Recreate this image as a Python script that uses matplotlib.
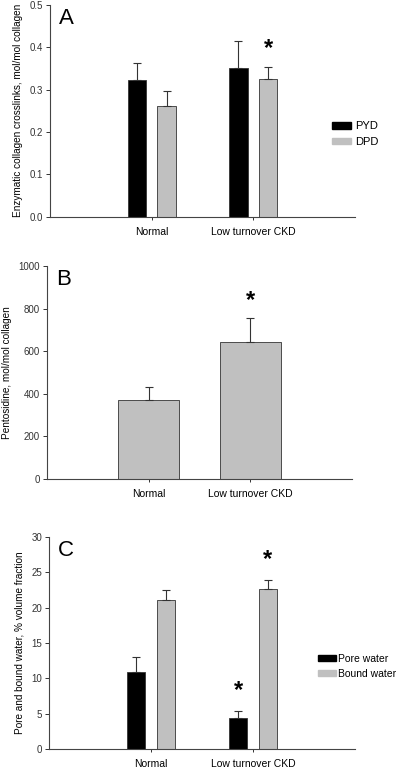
import numpy as np
import matplotlib.pyplot as plt
from matplotlib.patches import Patch

plt.rcParams['font.family'] = ['Liberation Sans', 'DejaVu Sans']

# Data
groups = ['Normal', 'Low turnover CKD']

pyd = [0.323, 0.352]
pyd_err = [0.039, 0.062]
dpd = [0.261, 0.325]
dpd_err = [0.035, 0.029]

pento = [372, 642]
pento_err = [58, 115]

pore = [10.9, 4.4]
pore_err = [2.1, 1.0]
bound = [21.1, 22.6]
bound_err = [1.4, 1.3]

black = '#000000'
gray = '#c0c0c0'
edge = '#333333'

fig = plt.figure(figsize=(4.0, 7.69), dpi=100)
x = np.arange(len(groups))


def style(ax, ymax, yticks, fmt):
    ax.set_xlim(-1.0, 2.0)
    ax.set_ylim(0, ymax)
    ax.set_yticks(yticks)
    ax.set_yticklabels([fmt.format(t) for t in yticks])
    ax.set_xticks(x)
    ax.set_xticklabels(groups, fontsize=7.5)
    for s in ['top', 'right']:
        ax.spines[s].set_visible(False)
    for s in ['left', 'bottom']:
        ax.spines[s].set_color('#444444')
        ax.spines[s].set_linewidth(0.8)
    ax.tick_params(axis='y', labelsize=7, colors='#333333', length=3, width=0.7, pad=2)
    ax.tick_params(axis='x', length=2.5, width=0.7, pad=5, colors='#333333', labelcolor='black')


def bars(ax, vals, errs, offset, width, color):
    ax.bar(x + offset, vals, width, color=color, edgecolor=edge, linewidth=0.6, zorder=2)
    ax.errorbar(x + offset, vals, yerr=[np.zeros(len(vals)), errs], fmt='none',
                ecolor=edge, elinewidth=0.8, capsize=3, capthick=0.8, zorder=3)


def star(ax, xpos, ypos):
    ax.text(xpos, ypos, '*', fontsize=17, fontweight='bold', ha='center', va='center')


# Panel A
axA = fig.add_axes([0.125, 0.718, 0.7625, 0.2757])
bars(axA, pyd, pyd_err, -0.147, 0.18, black)
bars(axA, dpd, dpd_err, 0.147, 0.18, gray)
style(axA, 0.5, [0.0, 0.1, 0.2, 0.3, 0.4, 0.5], '{:.1f}')
axA.set_ylabel('Enzymatic collagen crosslinks, mol/mol collagen', fontsize=7.2, labelpad=5)
axA.text(0.03, 0.985, 'A', transform=axA.transAxes, fontsize=16, va='top')
star(axA, 1 + 0.147, 0.398)
axA.legend(handles=[Patch(color=black, label='PYD'), Patch(color=gray, label='DPD')],
           loc='center left', bbox_to_anchor=(0.925, 0.39), frameon=False, fontsize=8,
           handlelength=1.7, handleheight=0.5, handletextpad=0.4, labelspacing=0.5,
           borderaxespad=0, borderpad=0)

# Panel B
axB = fig.add_axes([0.1175, 0.3771, 0.7625, 0.277])
axB.bar(x, pento, 0.6, color=gray, edgecolor=edge, linewidth=0.6, zorder=2)
axB.errorbar(x, pento, yerr=[np.zeros(2), pento_err], fmt='none', ecolor=edge,
             elinewidth=0.8, capsize=3, capthick=0.8, zorder=3)
style(axB, 1000, [0, 200, 400, 600, 800, 1000], '{:d}')
axB.set_ylabel('Pentosidine, mol/mol collagen', fontsize=7.2, labelpad=5)
axB.text(0.03, 0.985, 'B', transform=axB.transAxes, fontsize=16, va='top')
star(axB, 1, 840)

# Panel C
axC = fig.add_axes([0.1225, 0.026, 0.765, 0.2757])
bars(axC, pore, pore_err, -0.147, 0.18, black)
bars(axC, bound, bound_err, 0.147, 0.18, gray)
style(axC, 30, [0, 5, 10, 15, 20, 25, 30], '{:d}')
axC.set_ylabel('Pore and bound water, % volume fraction', fontsize=7.2, labelpad=5)
axC.text(0.03, 0.985, 'C', transform=axC.transAxes, fontsize=16, va='top')
star(axC, 1 - 0.147, 8.3)
star(axC, 1 + 0.147, 26.8)
axC.legend(handles=[Patch(color=black, label='Pore water'), Patch(color=gray, label='Bound water')],
           loc='center left', bbox_to_anchor=(0.879, 0.39), frameon=False, fontsize=7.5,
           handlelength=1.7, handleheight=0.5, handletextpad=0.25, labelspacing=0.5,
           borderaxespad=0, borderpad=0)

fig.savefig('out.png', dpi=100)
